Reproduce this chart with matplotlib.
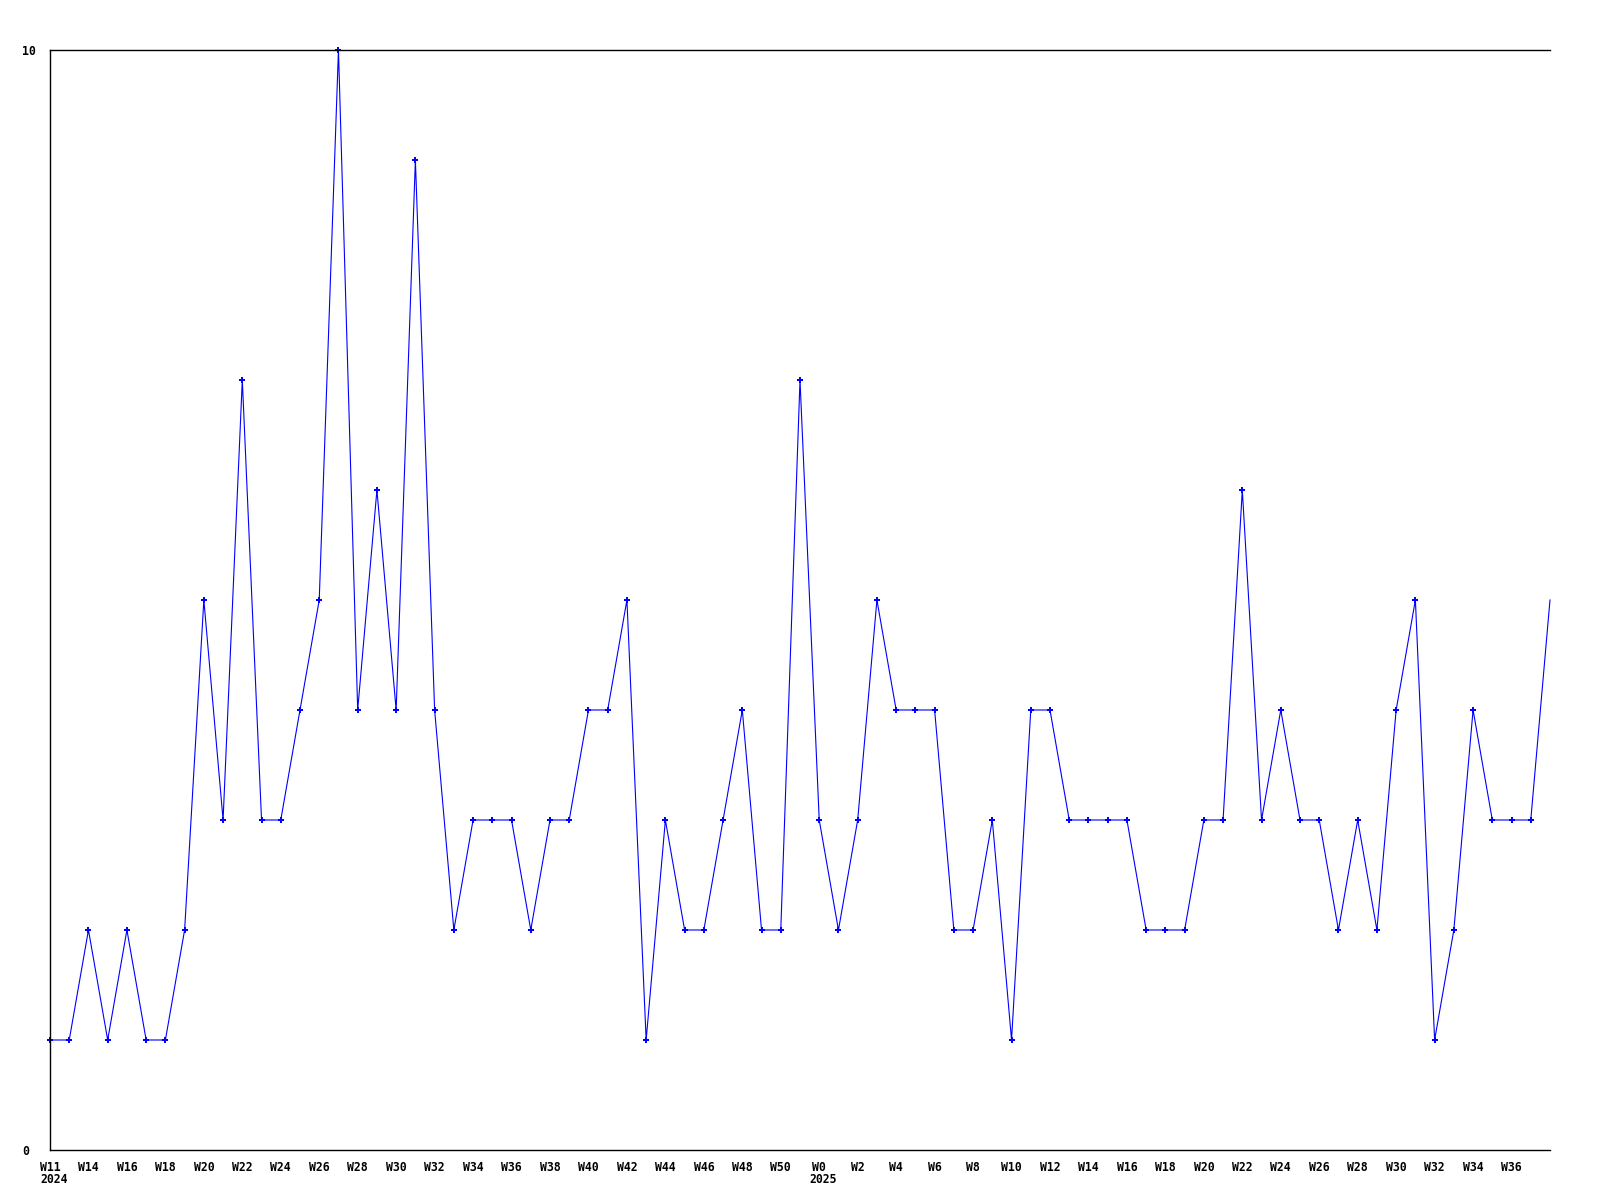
import matplotlib
matplotlib.use('Agg')
import matplotlib.pyplot as plt
import matplotlib.transforms as mtransforms

# weekly counts, W12 2024 .. W38 2025
counts = [1, 1, 2, 1, 2, 1, 1, 2, 5, 3,
          7, 3, 3, 4, 5, 10, 4, 6, 4, 9,
          4, 2, 3, 3, 3, 2, 3, 3, 4, 4,
          5, 1, 3, 2, 2, 3, 4, 2, 2, 7,
          3, 2, 3, 5, 4, 4, 4, 2, 2, 3,
          1, 4, 4, 3, 3, 3, 3, 2, 2, 2,
          3, 3, 6, 3, 4, 3, 3, 2, 3, 2,
          4, 5, 1, 2, 4, 3, 3, 3, 5]

tick_pos = [0, 2, 4, 6, 8, 10, 12, 14, 16, 18, 20, 22, 24, 26, 28, 30, 32, 34, 36, 38,
            40, 42, 44, 46, 48, 50, 52, 54, 56, 58, 60, 62, 64, 66, 68, 70, 72, 74, 76]
tick_labels = ['W11', 'W14', 'W16', 'W18', 'W20', 'W22', 'W24', 'W26', 'W28', 'W30',
               'W32', 'W34', 'W36', 'W38', 'W40', 'W42', 'W44', 'W46', 'W48', 'W50',
               'W0', 'W2', 'W4', 'W6', 'W8', 'W10', 'W12', 'W14', 'W16', 'W18',
               'W20', 'W22', 'W24', 'W26', 'W28', 'W30', 'W32', 'W34', 'W36']
year_pos = [0, 40]
year_labels = ['2024', '2025']

font = dict(family='DejaVu Sans Mono', weight='bold', size=8.3)

fig = plt.figure(figsize=(16, 12), dpi=100)
ax = fig.add_axes([0.03125, 0.04167, 0.9375, 0.91667])

x = list(range(len(counts)))
ax.plot(x, counts, color='#0000ff', linewidth=0.8, marker='P', markersize=4,
        markeredgewidth=0, markevery=slice(0, len(counts) - 1), clip_on=False)

ax.set_xlim(0, len(counts) - 1)
ax.set_ylim(0, 10)
ax.spines['right'].set_visible(False)
for s in ['left', 'top', 'bottom']:
    ax.spines[s].set_linewidth(1.0)

ax.set_xticks(tick_pos)
ax.set_xticklabels(tick_labels, **font)
ax.set_yticks([0, 10])
ax.set_yticklabels(['0', '10'], **font)
ax.tick_params(axis='both', length=0)
ax.tick_params(axis='x', pad=8)
for lbl in ax.get_yticklabels():
    lbl.set_horizontalalignment('left')
ax.tick_params(axis='y', pad=20)

trans = mtransforms.blended_transform_factory(ax.transData, ax.transAxes)
for xp, yl in zip(year_pos, year_labels):
    ax.text(xp - 0.5, -0.021, yl, transform=trans, ha='left', va='top', **font)

fig.savefig('out.png', dpi=100)
